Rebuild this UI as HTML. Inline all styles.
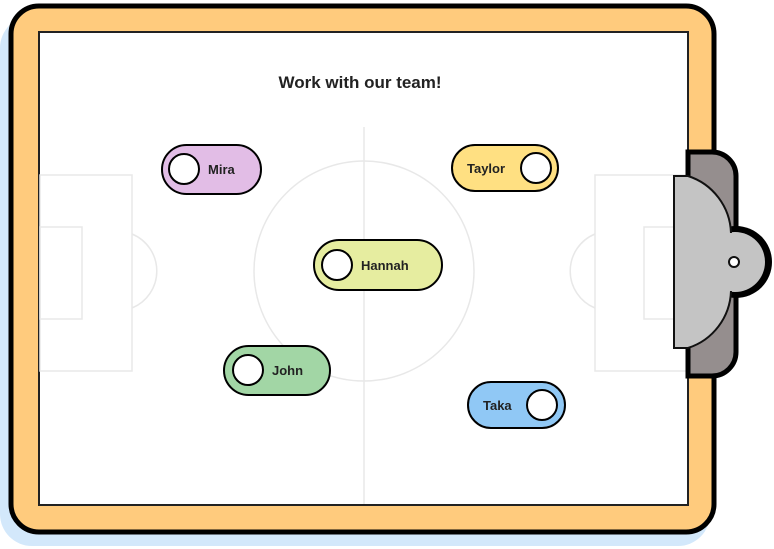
<!DOCTYPE html>
<html><head><style>body{margin:0;background:#fff}svg{display:block}text{font-family:"Liberation Sans",sans-serif;font-weight:bold;fill:#222}</style></head><body>
<svg width="774" height="549" viewBox="0 0 774 549">
<rect x="0" y="16" width="710" height="530" rx="32" fill="#D3E8FB"/>
<rect x="11" y="6" width="703" height="526" rx="28" fill="#FFCB7D" stroke="#000" stroke-width="5"/>
<rect x="39" y="32" width="649" height="473" fill="#fff" stroke="#222" stroke-width="2"/>
<g stroke="#e8e8e8" stroke-width="1.5" fill="none">
<line x1="364" y1="127" x2="364" y2="504"/>
<circle cx="364" cy="271" r="110"/>
<rect x="40" y="175" width="92" height="196"/>
<rect x="40" y="227" width="42" height="92"/>
<path d="M132 234 A40 40 0 0 1 132 308"/>
<rect x="595" y="175" width="92" height="196"/>
<rect x="644" y="227" width="43" height="92"/>
<path d="M595 234 A40 40 0 0 0 595 308"/>
</g>
<path d="M688 152 H712 A24 24 0 0 1 736 176 V352 A24 24 0 0 1 712 376 H688 Z" fill="#958E8E" stroke="#000" stroke-width="5"/>
<circle cx="736" cy="262" r="36" fill="#000"/>
<circle cx="735" cy="262" r="30" fill="#C4C4C4"/>
<path d="M674 176 H688 A62 62 0 0 1 731 233 L731 291 A62 62 0 0 1 688 348 H674 Z" fill="#C4C4C4"/>
<path d="M731 233 A62 62 0 0 0 688 176 H674 V348 H688 A62 62 0 0 0 731 291" fill="none" stroke="#111" stroke-width="2"/>
<circle cx="734" cy="262" r="5" fill="#fff" stroke="#111" stroke-width="2"/>
<text x="360" y="88" font-size="17" text-anchor="middle">Work with our team!</text>
<g stroke="#000" stroke-width="2">
<rect x="162" y="145" width="99" height="49" rx="24.5" fill="#E2BDE6"/>
<circle cx="184" cy="169" r="15" fill="#fff"/>
<rect x="452" y="145" width="106" height="46" rx="23" fill="#FFE082"/>
<circle cx="536" cy="168" r="15" fill="#fff"/>
<rect x="314" y="240" width="128" height="50" rx="25" fill="#E6EDA0"/>
<circle cx="337" cy="265" r="15" fill="#fff"/>
<rect x="224" y="346" width="106" height="49" rx="24.5" fill="#A2D6A5"/>
<circle cx="248" cy="370" r="15" fill="#fff"/>
<rect x="468" y="382" width="97" height="46" rx="23" fill="#90C8F5"/>
<circle cx="542" cy="405" r="15" fill="#fff"/>
</g>
<g font-size="13">
<text x="208" y="174">Mira</text>
<text x="467" y="173">Taylor</text>
<text x="361" y="270">Hannah</text>
<text x="272" y="375">John</text>
<text x="483" y="410">Taka</text>
</g>
</svg>
</body></html>
